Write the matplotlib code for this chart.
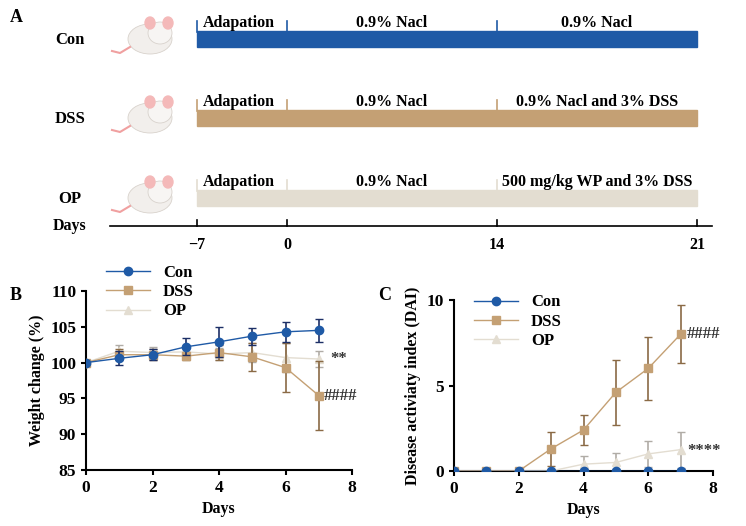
import numpy as np
import matplotlib
matplotlib.use("Agg")
import matplotlib.pyplot as plt
from matplotlib.patches import Ellipse, Rectangle
from matplotlib.lines import Line2D

plt.rcParams["font.family"] = "Liberation Serif"
plt.rcParams["font.weight"] = "bold"
plt.rcParams["axes.labelweight"] = "bold"

# ---- data ----
days = [0, 1, 2, 3, 4, 5, 6, 7]
groups = ["Con", "DSS", "OP"]
colors = ["#1f5aa6", "#c4a074", "#e3ddd1"]
err_colors = ["#1c2f66", "#8a6a45", "#b0aca6"]
markers = ["o", "s", "^"]

weight = [[100, 100.6, 101.1, 102.2, 102.9, 103.7, 104.3, 104.5],
          [100, 101.1, 101.1, 100.9, 101.4, 100.8, 99.3, 95.4],
          [100, 101.6, 101.4, 101.5, 101.2, 101.4, 100.7, 100.5]]
weight_err = [[0, 1.0, 0.8, 1.2, 2.1, 1.2, 1.4, 1.6],
              [0, 0.8, 0.8, 0.6, 1.0, 2.0, 3.4, 4.8],
              [0, 0.8, 0.8, 0.5, 0.8, 1.3, 2.0, 1.1]]
dai = [[0, 0, 0, 0, 0, 0, 0, 0],
       [0, 0, 0, 1.3, 2.4, 4.6, 6.0, 8.0],
       [0, 0, 0, 0, 0.4, 0.5, 1.0, 1.25]]
dai_err = [[0, 0, 0, 0, 0, 0, 0, 0],
           [0, 0, 0, 1.0, 0.9, 1.9, 1.85, 1.7],
           [0, 0, 0, 0, 0.5, 0.55, 0.75, 1.05]]

timeline_days = [-7, 0, 14, 21]
timeline_px = [197, 287, 497, 697]  # schematic (not to scale) positions
phase_labels = [["Adapation", "0.9% Nacl", "0.9% Nacl"],
                ["Adapation", "0.9% Nacl", "0.9% Nacl and 3% DSS"],
                ["Adapation", "0.9% Nacl", "500 mg/kg WP and 3% DSS"]]

W, H = 746, 526
fig = plt.figure(figsize=(W / 100, H / 100), dpi=100)

# ---- panel A (pixel coordinates) ----
axA = fig.add_axes([0, 0, 1, 1])
axA.set_xlim(0, W)
axA.set_ylim(H, 0)
axA.axis("off")
axA.text(10, 18, "A", fontsize=13, fontweight="bold", va="center")

row_y = [31, 110, 190]
for i, g in enumerate(groups):
    y = row_y[i]
    axA.text(70, y + 9, g, fontsize=12, fontweight="bold", va="center", ha="center")
    # simple mouse
    axA.add_patch(Ellipse((150, y + 8), 44, 30, color="#f2efec", ec="#d8d2cc", lw=0.6))
    axA.add_patch(Ellipse((160, y + 2), 24, 22, color="#f7f5f3", ec="#d8d2cc", lw=0.6))
    axA.add_patch(Ellipse((150, y - 8), 10, 12, color="#f4b9b9"))
    axA.add_patch(Ellipse((168, y - 8), 10, 12, color="#f4b9b9"))
    axA.plot([130, 120, 112], [y + 16, y + 22, y + 20], color="#f0a0a0", lw=1.5)
    axA.add_patch(Rectangle((timeline_px[0], y), timeline_px[-1] - timeline_px[0], 16,
                            color=colors[i], zorder=2))
    for x in timeline_px[:3]:
        axA.plot([x, x], [y - 10, y + 1], color=colors[i], lw=1.2)
    for j, lab in enumerate(phase_labels[i]):
        xc = (timeline_px[j] + timeline_px[j + 1]) / 2
        if j == 0:
            axA.text(timeline_px[0] + 6, y - 8, lab, fontsize=11.5, va="center", ha="left")
        else:
            axA.text(xc, y - 8, lab, fontsize=11.5, va="center", ha="center")

axA.text(70, 226, "Days", fontsize=11.5, va="center", ha="center")
axA.plot([110, 712], [226, 226], color="black", lw=1.2)
for d, x in zip(timeline_days, timeline_px):
    axA.plot([x, x], [220, 226], color="black", lw=1.2)
    axA.text(x, 245, "\u2212" + str(-d) if d < 0 else str(d), fontsize=11.5,
             ha="center", va="center")

axA.text(10, 296, "B", fontsize=13, fontweight="bold", va="center")
axA.text(378, 296, "C", fontsize=13, fontweight="bold", va="center")

# ---- panels B and C ----
def style(ax):
    for s in ["top", "right"]:
        ax.spines[s].set_visible(False)
    for s in ["left", "bottom"]:
        ax.spines[s].set_linewidth(1.5)
    ax.tick_params(width=1.5, labelsize=12.5)
    ax.set_xlim(0, 8)
    ax.set_xticks([0, 2, 4, 6, 8])
    ax.set_xlabel("Days", fontsize=11.5)

def legend(ax, anchor):
    handles = [Line2D([], [], color=colors[i], marker=markers[i], ms=6, lw=1)
               for i in range(3)]
    ax.legend(handles, groups, loc="upper left", bbox_to_anchor=anchor, frameon=False,
              fontsize=12, handlelength=2.6, labelspacing=0.2)

axB = fig.add_axes([86 / W, 1 - 470 / H, 266 / W, 179 / H])
for i, g in enumerate(groups):
    axB.errorbar(days, weight[i], yerr=weight_err[i], color=colors[i], ecolor=err_colors[i],
                 marker=markers[i], ms=6, lw=1, elinewidth=1.2, capsize=3,
                 zorder=5 - i)
axB.set_ylim(85, 110)
axB.set_yticks([85, 90, 95, 100, 105, 110])
axB.set_ylabel("Weight change (%)", fontsize=11.5)
axB.text(7.35, 100.5, "**", fontsize=12, va="center", color="#333333")
axB.text(7.15, 95.4, "####", fontsize=12, va="center", color="#333333")
style(axB)
legend(axB, (0.02, 1.23))

axC = fig.add_axes([454 / W, 1 - 471 / H, 259 / W, 171 / H])
for i, g in enumerate(groups):
    axC.errorbar(days, dai[i], yerr=dai_err[i], color=colors[i], ecolor=err_colors[i],
                 marker=markers[i], ms=6, lw=1, elinewidth=1.2, capsize=3,
                 zorder=5 - i if i else 6)
axC.set_ylim(0, 10)
axC.set_yticks([0, 5, 10])
axC.set_ylabel("Disease activiaty index (DAI)", fontsize=11.5)
axC.text(7.2, 8.0, "####", fontsize=12, va="center", color="#333333")
axC.text(7.2, 1.15, "****", fontsize=12, va="center", color="#333333")
style(axC)
legend(axC, (0.02, 1.12))

fig.savefig("out.png", dpi=100)
